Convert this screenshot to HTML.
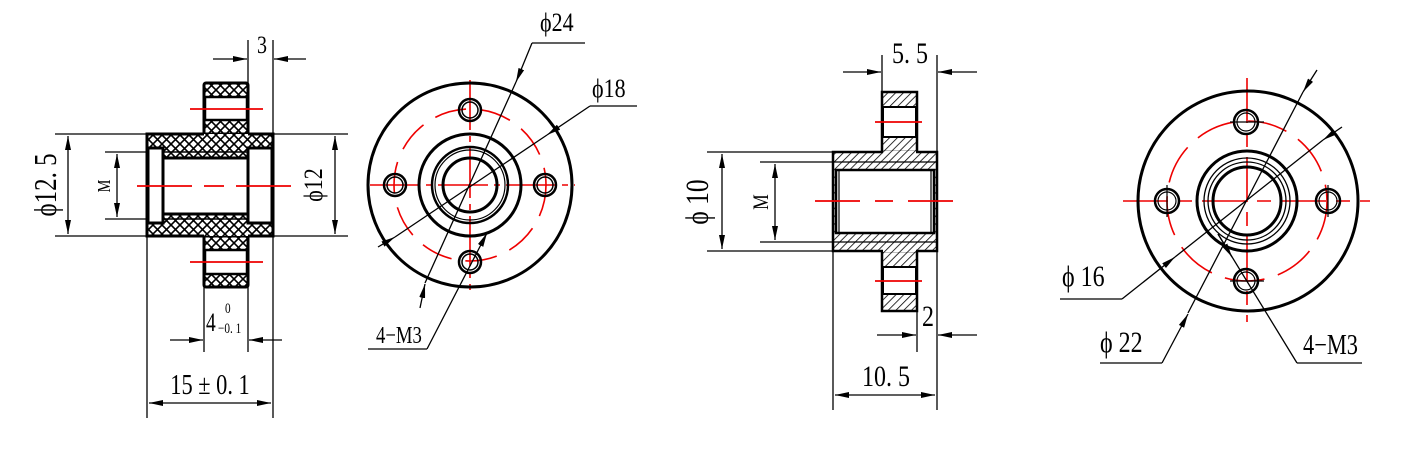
<!DOCTYPE html>
<html><head><meta charset="utf-8"><style>
html,body{margin:0;padding:0;background:#fff;}
svg{display:block;}
text{font-family:"Liberation Serif",serif;fill:#000;}
</style></head><body>
<svg width="1410" height="450" viewBox="0 0 1410 450" xmlns="http://www.w3.org/2000/svg">
<defs>
<pattern id="xh" width="9" height="9" patternUnits="userSpaceOnUse">
<rect width="9" height="9" fill="#fff"/>
<path d="M0,0 L9,9 M9,0 L0,9" stroke="#000" stroke-width="1.6"/>
</pattern>
<pattern id="dh" width="5.5" height="5.5" patternUnits="userSpaceOnUse" patternTransform="rotate(45)">
<rect width="5.5" height="5.5" fill="#fff"/>
<line x1="0" y1="0" x2="0" y2="5.5" stroke="#000" stroke-width="1.6"/>
</pattern>
<marker id="ar" markerWidth="14" markerHeight="6" refX="14" refY="3" orient="auto" markerUnits="userSpaceOnUse">
<path d="M0,0 L14,3 L0,6 z" fill="#000"/>
</marker>
<marker id="al" markerWidth="14" markerHeight="6" refX="0" refY="3" orient="auto" markerUnits="userSpaceOnUse">
<path d="M14,0 L0,3 L14,6 z" fill="#000"/>
</marker>
</defs>

<!-- ============ Drawing 1 ============ -->
<g stroke="#000" fill="none">
<rect x="204" y="83" width="44" height="204" fill="url(#xh)" stroke-width="3" rx="2"/>
<rect x="147" y="134" width="126" height="102" fill="url(#xh)" stroke-width="3"/>
<rect x="204" y="134" width="44" height="102" fill="url(#xh)" stroke="none"/>
<rect x="205" y="97" width="42" height="23" fill="#fff" stroke-width="2.5"/>
<rect x="205" y="250" width="42" height="24" fill="#fff" stroke-width="2.5"/>
<rect x="162" y="158" width="86" height="56" fill="#fff" stroke-width="3"/>
<rect x="148" y="148" width="15" height="75" fill="#fff" stroke-width="3"/>
<rect x="248" y="148" width="24" height="75" fill="#fff" stroke-width="3"/>
<line x1="162" y1="152" x2="248" y2="152" stroke-width="1.5"/>
<line x1="162" y1="219" x2="248" y2="219" stroke-width="1.5"/>
<g stroke-width="1.3">
<line x1="55" y1="134" x2="147" y2="134"/><line x1="55" y1="236" x2="147" y2="236"/>
<line x1="68" y1="136" x2="68" y2="234" marker-start="url(#al)" marker-end="url(#ar)"/>
<line x1="105" y1="152" x2="147" y2="152"/><line x1="105" y1="219" x2="147" y2="219"/>
<line x1="117" y1="154" x2="117" y2="217" marker-start="url(#al)" marker-end="url(#ar)"/>
<line x1="273" y1="134" x2="348" y2="134"/><line x1="273" y1="236" x2="348" y2="236"/>
<line x1="335" y1="136" x2="335" y2="234" marker-start="url(#al)" marker-end="url(#ar)"/>
<line x1="248" y1="40" x2="248" y2="83"/><line x1="273" y1="40" x2="273" y2="134"/>
<line x1="213" y1="59" x2="247" y2="59" marker-end="url(#ar)"/>
<line x1="306" y1="59" x2="274" y2="59" marker-end="url(#ar)"/>
<line x1="204" y1="287" x2="204" y2="352"/><line x1="248" y1="287" x2="248" y2="352"/>
<line x1="170" y1="340" x2="203" y2="340" marker-end="url(#ar)"/>
<line x1="282" y1="340" x2="249" y2="340" marker-end="url(#ar)"/>
<line x1="147" y1="236" x2="147" y2="418"/><line x1="273" y1="236" x2="273" y2="418"/>
<line x1="149" y1="403" x2="271" y2="403" marker-start="url(#al)" marker-end="url(#ar)"/>
</g>
</g>
<g stroke="#e00" stroke-width="1.8">
<line x1="190" y1="109" x2="263" y2="109"/><line x1="190" y1="262" x2="263" y2="262"/>
<line x1="137" y1="186" x2="295" y2="186" stroke-dasharray="55,12,20,12,55"/>
</g>
<text font-size="25" transform="translate(56,185) rotate(-90) scale(1,1.25)" text-anchor="middle">ϕ12. 5</text>
<text font-size="18" transform="translate(110,186) rotate(-90) scale(0.8,1)" text-anchor="middle">M</text>
<text font-size="22" transform="translate(322,185) rotate(-90) scale(1,1.2)" text-anchor="middle">ϕ12</text>
<text font-size="25" transform="translate(262,53) scale(0.8,1)" text-anchor="middle">3</text>
<text font-size="26" transform="translate(206,331) scale(0.75,1)">4</text>
<text font-size="15" transform="translate(225,313) scale(0.75,1)">0</text>
<text font-size="15" transform="translate(218,333) scale(0.75,1)">−0. 1</text>
<text font-size="28" transform="translate(210,394) scale(0.8,1)" text-anchor="middle">15 ± 0. 1</text>

<!-- ============ Drawing 2 ============ -->
<g stroke="#e00" stroke-width="1.6" fill="none">
<circle cx="470" cy="185" r="76" stroke-dasharray="32,14"/>
<line x1="370" y1="185" x2="575" y2="185" stroke-dasharray="50,6,6,6"/>
<line x1="470" y1="80" x2="470" y2="290" stroke-dasharray="50,6,6,6"/>
</g>
<g stroke="#000" fill="none">
<circle cx="470" cy="185" r="102" stroke-width="3"/>
<circle cx="470" cy="185" r="51" stroke-width="3"/>
<circle cx="470" cy="185" r="38" stroke-width="2.5"/>
<circle cx="470" cy="185" r="35" stroke-width="1.2"/>
<circle cx="470" cy="185" r="27" stroke-width="3"/>
<circle cx="470" cy="110" r="11" stroke-width="2.5"/><circle cx="470" cy="110" r="8" stroke-width="1.5"/>
<circle cx="470" cy="262" r="11" stroke-width="2.5"/><circle cx="470" cy="262" r="8" stroke-width="1.5"/>
<circle cx="395" cy="185" r="11" stroke-width="2.5"/><circle cx="395" cy="185" r="8" stroke-width="1.5"/>
<circle cx="545" cy="185" r="11" stroke-width="2.5"/><circle cx="545" cy="185" r="8" stroke-width="1.5"/>
<g stroke-width="1.3">
<line x1="532" y1="43" x2="516" y2="82" marker-end="url(#ar)"/>
<line x1="516" y1="82" x2="425" y2="283"/>
<line x1="420" y1="308" x2="425" y2="284" marker-end="url(#ar)"/>
<line x1="532" y1="43" x2="585" y2="43"/>
<line x1="590" y1="106" x2="547" y2="135" marker-end="url(#ar)"/>
<line x1="547" y1="135" x2="395" y2="237"/>
<line x1="378" y1="247" x2="395" y2="237" marker-end="url(#ar)"/>
<line x1="590" y1="106" x2="637" y2="106"/>
<line x1="427" y1="349" x2="487" y2="233" marker-end="url(#ar)"/>
<line x1="368" y1="349" x2="427" y2="349"/>
</g>
</g>
<text font-size="22" transform="translate(540,31) scale(1,1.2)">ϕ24</text>
<text font-size="22" transform="translate(592,97) scale(1,1.2)">ϕ18</text>
<text font-size="22" transform="translate(376,343) scale(0.85,1.1)">4−M3</text>

<!-- ============ Drawing 3 ============ -->
<g stroke="#000" fill="none">
<rect x="882" y="92" width="35" height="219" fill="url(#dh)" stroke-width="2.5"/>
<rect x="833" y="152" width="104" height="99" fill="url(#dh)" stroke-width="2.5"/>
<rect x="883" y="151" width="33" height="101" fill="url(#dh)" stroke="none"/>
<rect x="883" y="107" width="33" height="30" fill="#fff" stroke-width="2"/>
<rect x="883" y="267" width="33" height="27" fill="#fff" stroke-width="2"/>
<rect x="836" y="170" width="98" height="63" fill="#fff" stroke-width="2.5"/>
<line x1="833" y1="162" x2="937" y2="162" stroke-width="1.2"/>
<line x1="833" y1="242" x2="937" y2="242" stroke-width="1.2"/>
<line x1="839" y1="170" x2="839" y2="233" stroke-width="1.2"/>
<line x1="931" y1="170" x2="931" y2="233" stroke-width="1.2"/>
<g stroke-width="1.3">
<line x1="707" y1="152" x2="833" y2="152"/><line x1="707" y1="251" x2="833" y2="251"/>
<line x1="722" y1="154" x2="722" y2="249" marker-start="url(#al)" marker-end="url(#ar)"/>
<line x1="760" y1="162" x2="833" y2="162"/><line x1="760" y1="242" x2="833" y2="242"/>
<line x1="775" y1="164" x2="775" y2="240" marker-start="url(#al)" marker-end="url(#ar)"/>
<line x1="882" y1="55" x2="882" y2="92"/><line x1="937" y1="55" x2="937" y2="152"/>
<line x1="843" y1="72" x2="881" y2="72" marker-end="url(#ar)"/>
<line x1="977" y1="72" x2="938" y2="72" marker-end="url(#ar)"/>
<line x1="917" y1="311" x2="917" y2="352"/>
<line x1="877" y1="335" x2="916" y2="335" marker-end="url(#ar)"/>
<line x1="977" y1="335" x2="938" y2="335" marker-end="url(#ar)"/>
<line x1="833" y1="251" x2="833" y2="410"/><line x1="937" y1="251" x2="937" y2="410"/>
<line x1="835" y1="395" x2="935" y2="395" marker-start="url(#al)" marker-end="url(#ar)"/>
</g>
</g>
<g stroke="#e00" stroke-width="1.8">
<line x1="875" y1="122" x2="922" y2="122"/><line x1="875" y1="281" x2="922" y2="281"/>
<line x1="815" y1="201" x2="955" y2="201" stroke-dasharray="45,15,18,15,45"/>
</g>
<text font-size="30" transform="translate(708,202) rotate(-90) scale(0.85,1.1)" text-anchor="middle">ϕ 10</text>
<text font-size="22" transform="translate(768,202) rotate(-90) scale(0.8,1)" text-anchor="middle">M</text>
<text font-size="30" transform="translate(910,63) scale(0.8,1)" text-anchor="middle">5. 5</text>
<text font-size="30" transform="translate(928,326) scale(0.8,1)" text-anchor="middle">2</text>
<text font-size="30" transform="translate(886,386) scale(0.8,1)" text-anchor="middle">10. 5</text>

<!-- ============ Drawing 4 ============ -->
<g stroke="#e00" stroke-width="1.6" fill="none">
<circle cx="1247" cy="201" r="80" stroke-dasharray="40,14"/>
<line x1="1123" y1="201" x2="1370" y2="201" stroke-dasharray="45,10,14,10"/>
<line x1="1247" y1="78" x2="1247" y2="322" stroke-dasharray="45,10,14,10"/>
</g>
<g stroke="#000" fill="none">
<circle cx="1248" cy="201" r="110" stroke-width="3"/>
<circle cx="1247" cy="201" r="50" stroke-width="3"/>
<circle cx="1247" cy="201" r="43" stroke-width="1.3"/>
<circle cx="1247" cy="201" r="39" stroke-width="1.3"/>
<circle cx="1247" cy="201" r="34" stroke-width="3"/>
<g stroke-width="2.5">
<circle cx="1246" cy="122" r="12"/><circle cx="1246" cy="281" r="12"/>
<circle cx="1167" cy="201" r="12"/><circle cx="1328" cy="201" r="12"/>
</g>
<g stroke-width="1.2">
<circle cx="1246" cy="122" r="9"/><circle cx="1246" cy="281" r="9"/>
<circle cx="1167" cy="201" r="9"/><circle cx="1328" cy="201" r="9"/>
<line x1="1230" y1="122" x2="1264" y2="122"/><line x1="1230" y1="281" x2="1264" y2="281"/>
<line x1="1167" y1="185" x2="1167" y2="217"/><line x1="1328" y1="185" x2="1328" y2="217"/>
</g>
<g stroke-width="1.3">
<line x1="1317" y1="70" x2="1303" y2="92" marker-end="url(#ar)"/>
<line x1="1303" y1="92" x2="1188" y2="313"/>
<line x1="1162" y1="363" x2="1188" y2="314" marker-end="url(#ar)"/>
<line x1="1100" y1="363" x2="1162" y2="363"/>
<line x1="1342" y1="127" x2="1323" y2="140" marker-end="url(#ar)"/>
<line x1="1323" y1="140" x2="1175" y2="257"/>
<line x1="1122" y1="299" x2="1175" y2="257" marker-end="url(#ar)"/>
<line x1="1060" y1="299" x2="1122" y2="299"/>
<line x1="1297" y1="363" x2="1218" y2="234"/>
<line x1="1297" y1="363" x2="1362" y2="363"/>
<line x1="1218" y1="234" x2="1232" y2="257" marker-end="url(#ar)"/>
</g>
</g>
<text font-size="30" transform="translate(1062,286) scale(0.8,1)">ϕ 16</text>
<text font-size="30" transform="translate(1100,352) scale(0.8,1)">ϕ 22</text>
<text font-size="28" transform="translate(1303,354) scale(0.8,1)">4−M3</text>
</svg>
</body></html>
